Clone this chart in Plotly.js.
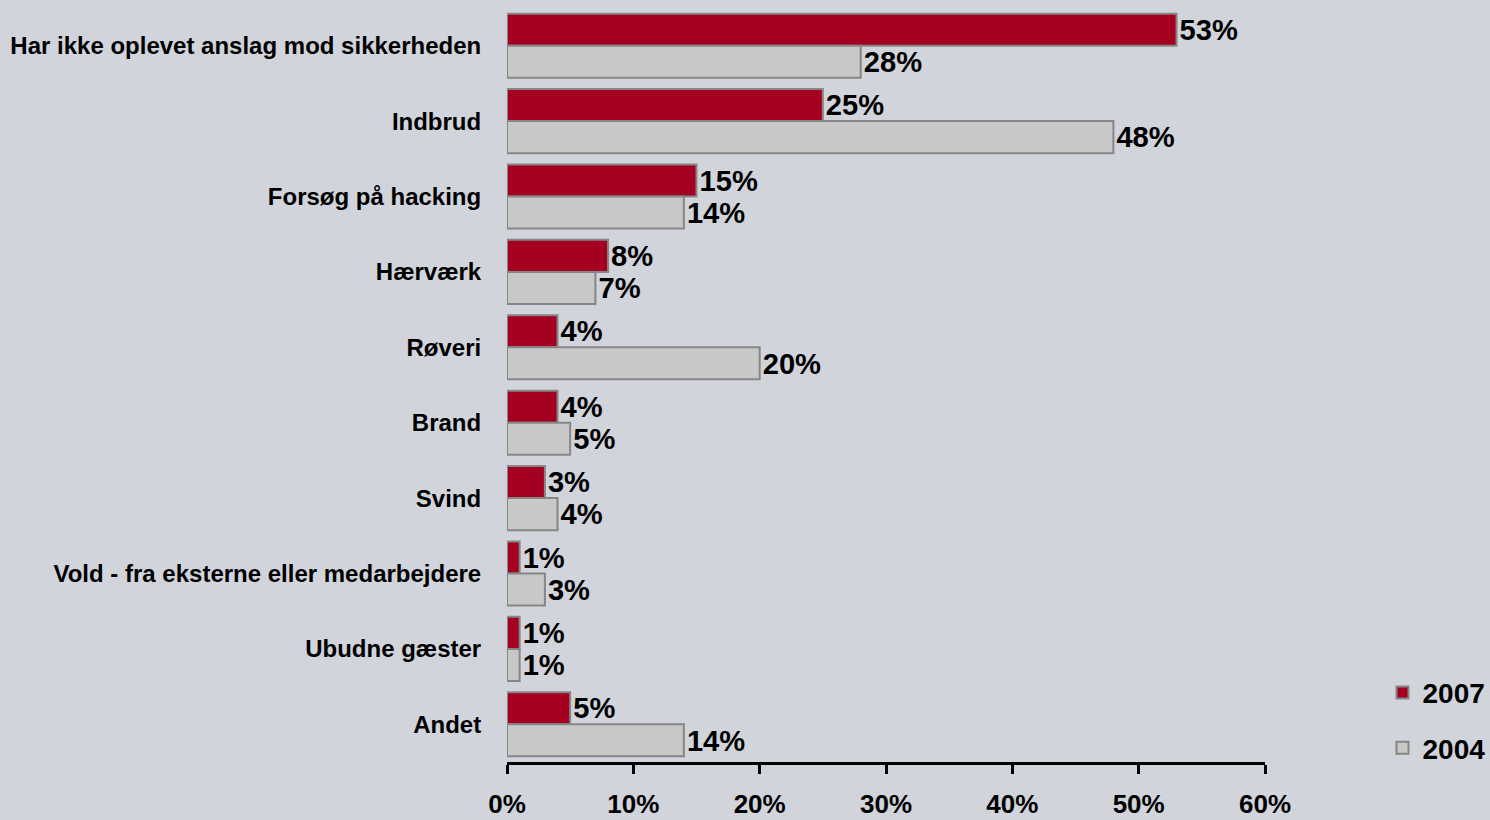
<!DOCTYPE html>
<html>
<head>
<meta charset="utf-8">
<script src="https://cdn.plot.ly/plotly-3.0.1.min.js"></script>
<style>
html,body{margin:0;padding:0;background:#d1d4db;}
#chart{width:1490px;height:820px;}
</style>
</head>
<body>
<div id="chart"></div>
<script>
const categories = [
  "Har ikke oplevet anslag mod sikkerheden",
  "Indbrud",
  "Forsøg på hacking",
  "Hærværk",
  "Røveri",
  "Brand",
  "Svind",
  "Vold - fra eksterne eller medarbejdere",
  "Ubudne gæster",
  "Andet"
];
const values2007 = [53, 25, 15, 8, 4, 4, 3, 1, 1, 5];
const values2004 = [28, 48, 14, 7, 20, 5, 4, 3, 1, 14];
const seriesNames = ["2007", "2004"];
const xTickValues = [0, 10, 20, 30, 40, 50, 60];
const xTickLabels = ["0%", "10%", "20%", "30%", "40%", "50%", "60%"];

const FONT = "Liberation Sans, Arial, sans-serif";

function barTrace(name, vals, fill) {
  return {
    type: "bar",
    orientation: "h",
    name: name,
    legendgroup: name,
    y: categories,
    x: vals,
    marker: {color: fill, line: {color: "#868686", width: 2}},
    text: vals.map(v => v + "%"),
    textposition: "outside",
    textfont: {family: FONT, size: 30, color: "#000", weight: 700},
    cliponaxis: false,
    hoverinfo: "x+y"
  };
}

const data = [
  barTrace(seriesNames[0], values2007, "#a50021"),
  barTrace(seriesNames[1], values2004, "#c8c8c8")
];

const layout = {
  width: 1490,
  height: 820,
  paper_bgcolor: "#d1d4db",
  plot_bgcolor: "#d1d4db",
  margin: {l: 507, r: 225, t: 8, b: 58, pad: 0, autoexpand: false},
  barmode: "group",
  bargap: 0.15,
  bargroupgap: 0,
  font: {family: FONT, color: "#000"},
  showlegend: true,
  legend: {
    x: 1.155, xanchor: "left",
    y: 0.125, yanchor: "top",
    font: {family: FONT, size: 28, color: "#000", weight: 700},
    bgcolor: "rgba(0,0,0,0)",
    traceorder: "grouped",
    tracegroupgap: 16,
    itemwidth: 30
  },
  xaxis: {
    range: [0, 60],
    tickvals: xTickValues,
    ticktext: xTickLabels,
    showgrid: false,
    zeroline: false,
    showline: true,
    linecolor: "#000",
    linewidth: 3,
    ticks: "outside",
    ticklen: 9,
    tickwidth: 3,
    tickcolor: "#000",
    ticklabelstandoff: 8,
    tickfont: {family: FONT, size: 26, color: "#000", weight: 700},
    fixedrange: true
  },
  yaxis: {
    autorange: "reversed",
    showgrid: false,
    zeroline: false,
    showline: false,
    ticks: "outside",
    ticklen: 20,
    tickcolor: "rgba(0,0,0,0)",
    tickfont: {family: FONT, size: 24, color: "#000", weight: 700},
    fixedrange: true
  }
};

Plotly.newPlot("chart", data, layout, {displayModeBar: false, staticPlot: true});
</script>
</body>
</html>
